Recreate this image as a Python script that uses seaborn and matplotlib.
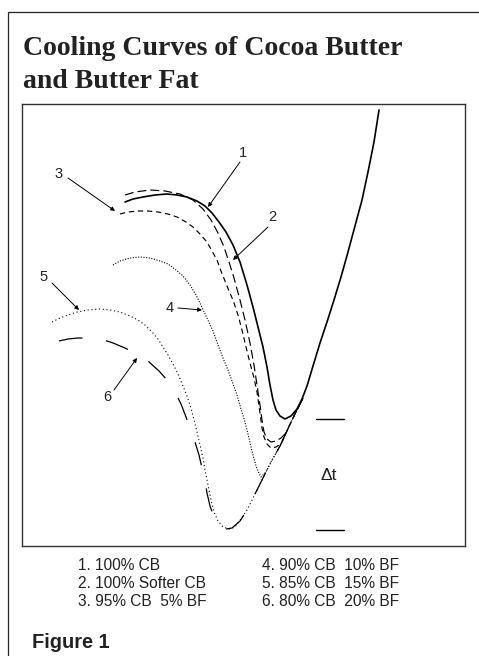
import matplotlib
matplotlib.use("Agg")
import matplotlib.pyplot as plt
import seaborn as sns
import pandas as pd
from matplotlib.patches import Rectangle

# ---- data (time axis -> x, temperature axis -> y, y grows downward) ----
rise_x = [232, 240, 247, 255, 263, 271, 280, 286, 292, 297, 303]
rise_y = [528, 521, 510, 494, 478, 462, 446, 433, 420, 410, 398]

c1_x = [125, 133, 143, 155, 167, 177, 187, 197, 205, 212, 219, 226, 233, 240, 247, 253, 258,
        263, 267, 270, 273, 276, 280, 285, 291, 297, 302, 307, 313, 320, 327, 334, 341,
        348, 355, 362, 368, 374, 379]
c1_y = [202, 199, 197, 195, 194, 195, 197, 201, 206, 213, 222, 232, 245, 262, 285, 307, 327,
        347, 367, 385, 400, 410, 416, 419, 416, 409, 399, 386, 366, 343, 322, 300, 277,
        252, 226, 200, 172, 142, 110]

c2_x = [125, 135, 150, 165, 180, 193, 203, 211, 218, 224, 229, 234, 240, 245, 250, 254, 257,
        260, 262, 264, 267, 271, 276, 281, 286, 292, 297, 303]
c2_y = [195, 192, 190, 191, 194, 200, 209, 220, 233, 247, 262, 278, 300, 320, 343, 365, 385,
        405, 420, 432, 439, 442, 441, 438, 433, 420, 410, 398]

c3_x = [120, 128, 138, 148, 158, 168, 177, 186, 193, 200, 207, 212, 217, 221, 225, 229, 233,
        238, 242, 246, 250, 254, 257, 260, 262, 264, 267, 271, 276, 281, 286, 292, 297, 303]
c3_y = [214, 212, 211, 211, 212, 214, 217, 222, 227, 234, 242, 251, 260, 271, 281, 291, 300,
        315, 330, 347, 363, 378, 392, 413, 428, 437, 444, 448, 447, 444, 433, 420, 410, 398]

c4_x = [113, 120, 130, 140, 150, 160, 168, 176, 183, 190, 196, 200, 206, 213, 218, 223, 228,
        232, 237, 241, 245, 248, 251, 254, 257, 261, 266, 271, 280, 286, 292, 297, 303]
c4_y = [265, 261, 258, 257, 258, 261, 264, 270, 276, 285, 295, 303, 316, 331, 345, 358, 370,
        381, 395, 409, 422, 434, 447, 459, 469, 477, 472, 462, 446, 433, 420, 410, 398]

c5_x = [52, 60, 68, 77, 88, 100, 110, 120, 130, 138, 145, 152, 158, 163, 168, 173, 178, 183,
        187, 191, 194, 197, 200, 203, 205, 208, 211, 214, 218, 223, 229, 235, 241, 247,
        255, 263, 271, 280, 286, 292, 297, 303]
c5_y = [322, 318, 315, 312, 310, 309, 310, 312, 316, 320, 325, 332, 339, 347, 355, 364, 374, 386,
        396, 408, 420, 432, 445, 458, 470, 485, 500, 512, 521, 527, 529, 527, 519, 510,
        494, 478, 462, 446, 433, 420, 410, 398]

c6_x = [59, 68, 78, 86, 95, 104, 113, 125, 137, 148, 159, 168, 175, 181, 186, 191, 195, 199,
        202, 205, 207, 210, 215, 220, 226, 232, 240, 247, 255, 263, 271, 280, 286, 292, 297, 303]
c6_y = [341, 339, 338, 338, 338, 340, 343, 348, 354, 361, 371, 381, 392, 404, 417, 430, 442, 455,
        468, 481, 493, 506, 520, 526, 529, 528, 521, 510, 494, 478, 462, 446, 433, 420, 410, 398]

curve_ids = ["1", "2", "3", "4", "5", "6"]
legend_left = ["1. 100% CB", "2. 100% Softer CB", "3. 95% CB  5% BF"]
legend_right = ["4. 90% CB  10% BF", "5. 85% CB  15% BF", "6. 80% CB  20% BF"]
title_lines = ["Cooling Curves of Cocoa Butter", "and Butter Fat"]
figure_label = "Figure 1"

# ---- figure ----
W, H = 479, 656
sns.set_theme(style="white")
plt.rcParams['font.family'] = ['Liberation Sans', 'DejaVu Sans']

fig = plt.figure(figsize=(W / 100, H / 100), dpi=100)

def fx(px):
    return px / W

def fy(py):
    return 1 - py / H

# outer frame (runs off the right and bottom edge)
fig.patches.append(Rectangle((fx(8), fy(700)), 2.0, fy(12) - fy(700), transform=fig.transFigure,
                             fill=False, edgecolor='#222222', linewidth=0.9))

ax_l, ax_r, ax_t, ax_b = 22, 465, 104, 546
ax = fig.add_axes([fx(ax_l), fy(ax_b), fx(ax_r) - fx(ax_l), fy(ax_t) - fy(ax_b)])

curves = {
    "1": (c1_x, c1_y),
    "2": (c2_x, c2_y),
    "3": (c3_x, c3_y),
    "4": (c4_x, c4_y),
    "5": (c5_x, c5_y),
    "6": (c6_x, c6_y),
}
styles = {
    "1": dict(linestyle='-', lw=1.2),
    "2": dict(linestyle=(0, (7.5, 3.5)), lw=0.85),
    "3": dict(linestyle=(0, (4.5, 3.2)), lw=0.85),
    "4": dict(linestyle=(0, (1.0, 1.4)), lw=0.8),
    "5": dict(linestyle=(0, (1.0, 2.4)), lw=0.8),
    "6": dict(linestyle=(0, (19, 19)), lw=0.9),
}
for cid in curve_ids:
    xs, ys = curves[cid]
    df = pd.DataFrame({"time": xs, "temp": ys})
    sns.lineplot(data=df, x="time", y="temp", sort=False, estimator=None, color='black',
                 ax=ax, legend=False, **styles[cid])

ax.set_xlim(ax_l, ax_r)
ax.set_ylim(ax_b, ax_t)
ax.set_xticks([])
ax.set_yticks([])
ax.set_xlabel("")
ax.set_ylabel("")
for s in ax.spines.values():
    s.set_color('#333333')
    s.set_linewidth(1.0)

# curve labels with arrows
label_specs = [
    ("1", (243, 153), (240, 162), (208, 207)),
    ("2", (272, 217), (268, 227), (233, 260)),
    ("3", (59, 174), (68, 178), (115, 211)),
    ("4", (170, 308), (178, 308), (202, 310)),
    ("5", (44, 277), (52, 283), (79, 310)),
    ("6", (107, 397), (114, 390), (137, 358)),
]
for txt, tpos, start, end in label_specs:
    ax.text(tpos[0], tpos[1], txt, ha='center', va='center', fontsize=10.5, color='#222222')
    ax.annotate("", xy=end, xytext=start,
                arrowprops=dict(arrowstyle='-|>', color='black', lw=0.7,
                                mutation_scale=6, shrinkA=0, shrinkB=0))

# delta t marks
ax.plot([316, 344], [419, 419], color='black', lw=1.0)
ax.plot([316, 344], [530, 530], color='black', lw=1.0)
ax.text(329, 475, "Δt", ha='center', va='center', fontsize=12.5, color='#222222')

# title
for i, line in enumerate(title_lines):
    fig.text(fx(23), fy(55 + 33 * i), line, ha='left', va='baseline',
             fontsize=20, fontweight='bold', family=['Liberation Serif', 'DejaVu Serif'],
             color='#222222')

# legend text
for i, (l, r) in enumerate(zip(legend_left, legend_right)):
    yy = 565 + 18.5 * i
    fig.text(fx(78), fy(yy), l, ha='left', va='center', fontsize=11.2, color='#222222')
    fig.text(fx(262), fy(yy), r, ha='left', va='center', fontsize=11.2, color='#222222')

fig.text(fx(32), fy(643), figure_label, ha='left', va='center', fontsize=14.4,
         fontweight='bold', color='#222222')

fig.savefig("out.png", dpi=100)
